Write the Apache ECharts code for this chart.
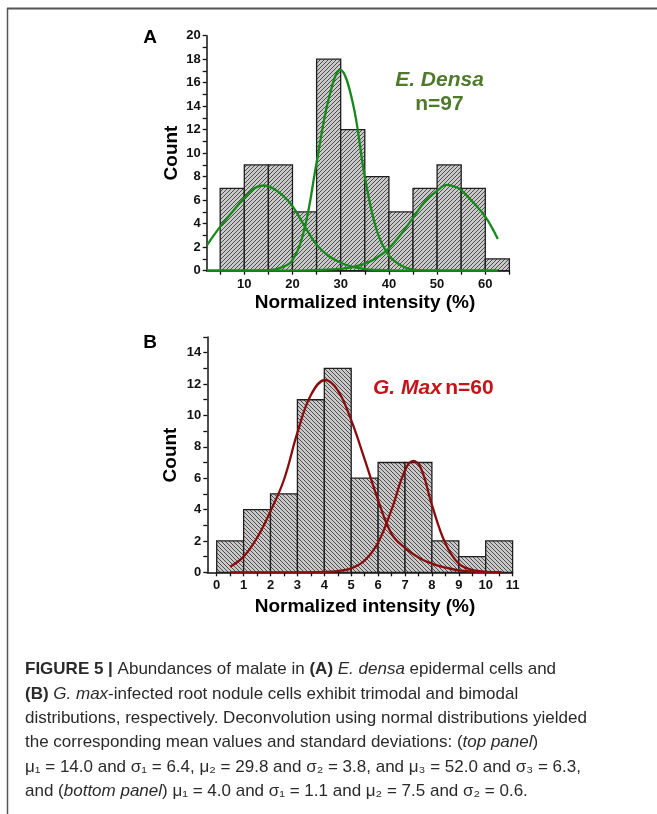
<!DOCTYPE html>
<html>
<head>
<meta charset="utf-8">
<script src="https://cdn.jsdelivr.net/npm/echarts@6/dist/echarts.min.js"></script>
<style>
html,body{margin:0;padding:0;background:#fff;}
#chart{width:657px;height:814px;}
</style>
</head>
<body>
<div id="chart"></div>
<script>
// ---------- DATA ----------
// Panel A: E. densa (bins of width 5, starting at binStartsA)
const binStartsA = [5, 10, 15, 20, 25, 30, 35, 40, 45, 50, 55, 60];
const binWidthA = 5;
const countsA = [7, 9, 9, 5, 18, 12, 8, 5, 7, 9, 7, 1];
// Fitted normal curves, [x, count]
const curveA1 = [[2.3,2.2],[5,3.75],[7.5,5.0],[10,6.2],[12,7.0],[14,7.25],[16,7.0],[18,6.4],[20,5.5],[22.5,3.8],[25,2.2],[27.5,1.25],[30,0.68],[32.5,0.32],[35,0.14],[37.5,0.06],[40,0.02],[45,0],[50,0],[55,0],[62.6,0]];
const curveA2 = [[2.3,0],[10,0],[15,0.04],[17.5,0.24],[20,0.9],[22.5,3.6],[25,9.2],[27.5,14.6],[29.9,17.1],[32.5,14.3],[35,8.0],[37.5,3.4],[40,1.3],[42.5,0.45],[45,0.1],[50,0],[62.6,0]];
const curveA3 = [[2.3,0],[20,0],[25,0.05],[30,0.15],[32.5,0.3],[35,0.6],[37.5,1.1],[40,1.9],[42.5,3.1],[45,4.5],[47.5,5.9],[50,6.8],[52,7.3],[54,7.1],[55,6.85],[57.5,5.8],[60,4.6],[62.6,2.7]];
const xTicksA = [5, 10, 15, 20, 25, 30, 35, 40, 45, 50, 55, 60, 65];
const xLabelsA = [10, 20, 30, 40, 50, 60];
const yTicksA = [0,1,2,3,4,5,6,7,8,9,10,11,12,13,14,15,16,17,18,19,20];
const yLabelsA = [0, 2, 4, 6, 8, 10, 12, 14, 16, 18, 20];

// Panel B: G. max (bins of width 1)
const binStartsB = [0, 1, 2, 3, 4, 5, 6, 7, 8, 9, 10];
const binWidthB = 1;
const countsB = [2, 4, 5, 11, 13, 6, 7, 7, 2, 1, 2];
const curveB1 = [[0.5,0.36],[1,1.0],[1.5,2.2],[2,3.9],[2.5,5.9],[3,8.9],[3.5,11.3],[4.03,12.26],[4.5,11.6],[5,9.7],[5.5,7.2],[6,4.6],[6.5,2.45],[7,1.55],[7.5,0.95],[8,0.55],[8.5,0.3],[9,0.12],[9.5,0.05],[10,0.02],[10.6,0]];
const curveB2 = [[0.5,0],[3,0],[4,0.02],[4.5,0.08],[5,0.25],[5.5,0.75],[6,1.9],[6.5,4.0],[7,6.5],[7.3,7.1],[7.6,6.6],[8,4.3],[8.5,1.85],[9,0.55],[9.5,0.15],[10,0.03],[10.6,0]];
const xTicksB = [0,0.5,1,1.5,2,2.5,3,3.5,4,4.5,5,5.5,6,6.5,7,7.5,8,8.5,9,9.5,10,10.5,11];
const xLabelsB = [0,1,2,3,4,5,6,7,8,9,10,11];
const yTicksB = [0,1,2,3,4,5,6,7,8,9,10,11,12,13,14,15];
const yLabelsB = [0, 2, 4, 6, 8, 10, 12, 14];

// Text
const panelTextA = ['E. Densa', 'n=97'];
const panelTextB = ['G. Max', 'n=60'];
const captionLines = [
  '{b|FIGURE 5 | }Abundances of malate in {b|(A)} {i|E. densa} epidermal cells and',
  '{b|(B)} {i|G. max}-infected root nodule cells exhibit trimodal and bimodal',
  'distributions, respectively. Deconvolution using normal distributions yielded',
  'the corresponding mean values and standard deviations: ({i|top panel})',
  'μ₁ = 14.0 and σ₁ = 6.4, μ₂ = 29.8 and σ₂ = 3.8, and μ₃ = 52.0 and σ₃ = 6.3,',
  'and ({i|bottom panel}) μ₁ = 4.0 and σ₁ = 1.1 and μ₂ = 7.5 and σ₂ = 0.6.'
];

// ---------- STYLE ----------
const FONT = "'Liberation Sans', Arial, Helvetica, sans-serif";
function hatch(dir) {
  const s = 4;
  const c = document.createElement('canvas');
  c.width = s; c.height = s;
  const g = c.getContext('2d');
  g.fillStyle = '#c9c9c9';
  g.fillRect(0, 0, s, s);
  g.strokeStyle = '#4c4c4c';
  g.lineWidth = 1;
  g.beginPath();
  if (dir > 0) {
    g.moveTo(-1, s + 1); g.lineTo(s + 1, -1);
    g.moveTo(-1, 1); g.lineTo(1, -1);
    g.moveTo(s - 1, s + 1); g.lineTo(s + 1, s - 1);
  } else {
    g.moveTo(-1, -1); g.lineTo(s + 1, s + 1);
    g.moveTo(s - 1, -1); g.lineTo(s + 1, 1);
    g.moveTo(-1, s - 1); g.lineTo(1, s + 1);
  }
  g.stroke();
  return c;
}
const patA = { image: hatch(1), repeat: 'repeat' };
const patB = { image: hatch(-1), repeat: 'repeat' };

function barsRender(pattern) {
  return function (params, api) {
    const x0 = api.value(0), x1 = api.value(1), c = api.value(2);
    const p0 = api.coord([x0, 0]);
    const p1 = api.coord([x1, c]);
    return {
      type: 'rect',
      shape: { x: p0[0], y: p1[1], width: p1[0] - p0[0], height: p0[1] - p1[1] },
      style: { fill: pattern, stroke: '#1e1e1e', lineWidth: 1.3 }
    };
  };
}
const barDataA = countsA.map((c, i) => [binStartsA[i], binStartsA[i] + binWidthA, c]);
const barDataB = countsB.map((c, i) => [binStartsB[i], binStartsB[i] + binWidthB, c]);

function xAxisCfg(idx, min, max, ticks, labels) {
  return {
    type: 'value', gridIndex: idx, min: min, max: max,
    axisLine: { show: true, onZero: false, lineStyle: { color: '#111', width: 1.5 } },
    axisTick: { show: true, customValues: ticks, length: 4, lineStyle: { color: '#111', width: 1.3 } },
    axisLabel: { customValues: labels, color: '#111', fontFamily: FONT, fontWeight: 'bold', fontSize: 13, margin: 7 },
    splitLine: { show: false }
  };
}
function yAxisCfg(idx, max, ticks, labels) {
  return {
    type: 'value', gridIndex: idx, min: 0, max: max,
    axisLine: { show: true, onZero: false, lineStyle: { color: '#111', width: 1.5 } },
    axisTick: { show: true, customValues: ticks, length: 4, lineStyle: { color: '#111', width: 1.3 } },
    axisLabel: { customValues: labels, color: '#111', fontFamily: FONT, fontWeight: 'bold', fontSize: 13, margin: 6 },
    splitLine: { show: false }
  };
}
function curve(data, xi, color) {
  return {
    type: 'line', xAxisIndex: xi, yAxisIndex: xi, data: data,
    smooth: 0.4, showSymbol: false, symbol: 'none', z: 5,
    lineStyle: { color: color, width: 2.3 }, silent: true, animation: false
  };
}

const GREEN = '#17891a';
const DARKRED = '#8a0d0d';
const CAP = 17;

const option = {
  backgroundColor: '#fff',
  animation: false,
  grid: [
    { left: 206.7, top: 35.7, width: 302.7, height: 235 },
    { left: 207.3, top: 337, width: 305.3, height: 235.3 }
  ],
  xAxis: [
    xAxisCfg(0, 2.2, 65, xTicksA, xLabelsA),
    xAxisCfg(1, -0.35, 11, xTicksB, xLabelsB)
  ],
  yAxis: [
    yAxisCfg(0, 20, yTicksA, yLabelsA),
    yAxisCfg(1, 15, yTicksB, yLabelsB)
  ],
  series: [
    { type: 'custom', xAxisIndex: 0, yAxisIndex: 0, data: barDataA, renderItem: barsRender(patA), z: 2, silent: true },
    { type: 'custom', xAxisIndex: 1, yAxisIndex: 1, data: barDataB, renderItem: barsRender(patB), z: 2, silent: true },
    curve(curveA1, 0, GREEN),
    curve(curveA2, 0, GREEN),
    curve(curveA3, 0, GREEN),
    curve(curveB1, 1, DARKRED),
    curve(curveB2, 1, DARKRED)
  ],
  graphic: [
    // frame
    { type: 'line', shape: { x1: 7, y1: 8.5, x2: 657, y2: 8.5 }, style: { stroke: '#555', lineWidth: 2 } },
    { type: 'line', shape: { x1: 7.5, y1: 8, x2: 7.5, y2: 814 }, style: { stroke: '#555', lineWidth: 1.5 } },
    // panel letters
    { type: 'text', x: 150, y: 38, style: { text: 'A', font: "bold 19px " + FONT, fill: '#000', align: 'center', verticalAlign: 'middle' } },
    { type: 'text', x: 150, y: 343, style: { text: 'B', font: "bold 19px " + FONT, fill: '#000', align: 'center', verticalAlign: 'middle' } },
    // axis titles
    { type: 'text', x: 171.5, y: 153, rotation: Math.PI / 2, style: { text: 'Count', font: "bold 19px " + FONT, fill: '#000', align: 'center', verticalAlign: 'middle' } },
    { type: 'text', x: 170.5, y: 455, rotation: Math.PI / 2, style: { text: 'Count', font: "bold 19px " + FONT, fill: '#000', align: 'center', verticalAlign: 'middle' } },
    { type: 'text', x: 365, y: 302.5, style: { text: 'Normalized intensity (%)', font: "bold 19px " + FONT, fill: '#000', align: 'center', verticalAlign: 'middle' } },
    { type: 'text', x: 365, y: 606.5, style: { text: 'Normalized intensity (%)', font: "bold 19px " + FONT, fill: '#000', align: 'center', verticalAlign: 'middle' } },
    // annotations
    { type: 'text', x: 439.5, y: 80, style: { text: panelTextA[0], font: "italic bold 21px " + FONT, fill: '#4f7a2c', align: 'center', verticalAlign: 'middle' } },
    { type: 'text', x: 439.5, y: 104.5, style: { text: panelTextA[1], font: "bold 21px " + FONT, fill: '#4f7a2c', align: 'center', verticalAlign: 'middle' } },
    { type: 'text', x: 373, y: 388.5, style: {
        text: '{i|' + panelTextB[0] + '} {b|' + panelTextB[1] + '}',
        align: 'left', verticalAlign: 'middle',
        rich: {
          i: { font: "italic bold 21px " + FONT, fill: '#c4141a' },
          b: { font: "bold 21px " + FONT, fill: '#c4141a' }
        }
      } }
  ].concat(captionLines.map((t, k) => ({
    type: 'text', x: 25, y: 669.5 + k * 24.4,
    style: {
      text: t, align: 'left', verticalAlign: 'middle',
      font: CAP + "px " + FONT, fill: '#2a2a2a',
      rich: {
        b: { font: "bold " + CAP + "px " + FONT, fill: '#2a2a2a' },
        i: { font: "italic " + CAP + "px " + FONT, fill: '#2a2a2a' }
      }
    }
  })))
};

const chart = echarts.init(document.getElementById('chart'), null, { renderer: 'canvas' });
chart.setOption(option);
</script>
</body>
</html>
